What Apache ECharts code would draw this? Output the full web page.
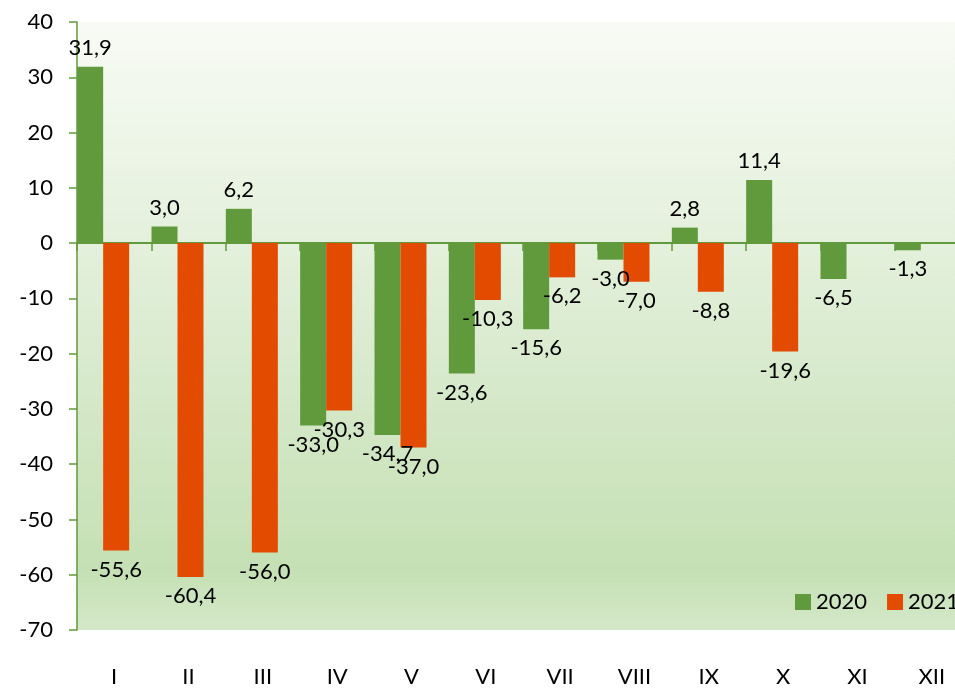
<!DOCTYPE html>
<html>
<head>
<meta charset="utf-8">
<script src="https://cdn.jsdelivr.net/npm/echarts@6/dist/echarts.min.js"></script>
<style>
  html, body { margin: 0; padding: 0; background: #fff; overflow: hidden; }
  #chart { width: 969px; height: 688px; }
</style>
</head>
<body>
<div id="chart"></div>
<script>
const months = ['I', 'II', 'III', 'IV', 'V', 'VI', 'VII', 'VIII', 'IX', 'X', 'XI', 'XII']
const values2020 = [31.9, 3.0, 6.2, -33.0, -34.7, -23.6, -15.6, -3.0, 2.8, 11.4, -6.5, -1.3]
const values2021 = [-55.6, -60.4, -56.0, -30.3, -37.0, -10.3, -6.2, -7.0, -8.8, -19.6, null, null]

const font = 'Lato, "Open Sans", sans-serif'
const green = '#609a3d'
const orange = '#e24b00'

// put label above positive bars, below negative ones
function withLabels(arr) {
  return arr.map(v => {
    if (v === null) return null
    return { value: v, label: { position: v >= 0 ? 'top' : 'bottom' } }
  })
}

const fmt = p => p.value.toFixed(1).replace('.', ',')

// chart is a bit wider than the window, right edge gets cut like in the original
const chart = echarts.init(document.getElementById('chart'))
chart.setOption({
  animation: false,
  textStyle: { fontFamily: font },
  grid: {
    left: 77,
    top: 22,
    right: 0,
    bottom: 55,
    show: true,
    borderWidth: 0,
    backgroundColor: {
      type: 'linear', x: 0, y: 0, x2: 0, y2: 1,
      colorStops: [
        { offset: 0, color: '#f8fbf5' },
        { offset: 0.5, color: '#dcecd2' },
        { offset: 0.9, color: '#c5e0b4' },
        { offset: 1, color: '#d4e8c9' }
      ]
    }
  },
  legend: {
    data: ['2020', '2021'],
    left: 790,
    top: 586,
    width: 300,
    orient: 'horizontal',
    icon: 'rect',
    itemWidth: 16,
    itemHeight: 16,
    itemGap: 20,
    textStyle: { fontSize: 22, color: '#000', fontFamily: font }
  },
  xAxis: [
    {
      type: 'category',
      data: months,
      position: 'bottom',
      axisLine: { onZero: true, lineStyle: { color: green, width: 2 } },
      axisTick: { show: true, length: 8, lineStyle: { color: green, width: 1.5 } },
      axisLabel: { show: false },
      splitLine: { show: false }
    },
    {
      type: 'category',
      data: months,
      position: 'bottom',
      axisLine: { show: false },
      axisTick: { show: false },
      axisLabel: { margin: 36, fontSize: 22, color: '#000', fontFamily: font }
    }
  ],
  yAxis: {
    type: 'value',
    min: -70,
    max: 40,
    interval: 10,
    axisLine: { show: true, lineStyle: { color: green, width: 1.5 } },
    axisTick: { show: true, length: 8, lineStyle: { color: green, width: 1.5 } },
    axisLabel: { margin: 24, fontSize: 22, color: '#000', fontFamily: font },
    splitLine: { show: false }
  },
  series: [
    {
      name: '2020',
      type: 'bar',
      xAxisIndex: 0,
      barWidth: 26,
      barGap: 0,
      itemStyle: { color: green },
      label: { show: true, distance: 8, fontSize: 22, color: '#000', fontFamily: font, formatter: fmt },
      data: withLabels(values2020)
    },
    {
      name: '2021',
      type: 'bar',
      xAxisIndex: 0,
      barWidth: 26,
      barGap: 0,
      itemStyle: { color: orange },
      label: { show: true, distance: 8, fontSize: 22, color: '#000', fontFamily: font, formatter: fmt },
      data: withLabels(values2021)
    },
    { // empty slot, pushes the pair to the left of the category
      name: '',
      type: 'bar',
      xAxisIndex: 0,
      barWidth: 22,
      barGap: 0,
      silent: true,
      data: months.map(() => null)
    }
  ]
})
</script>
</body>
</html>
